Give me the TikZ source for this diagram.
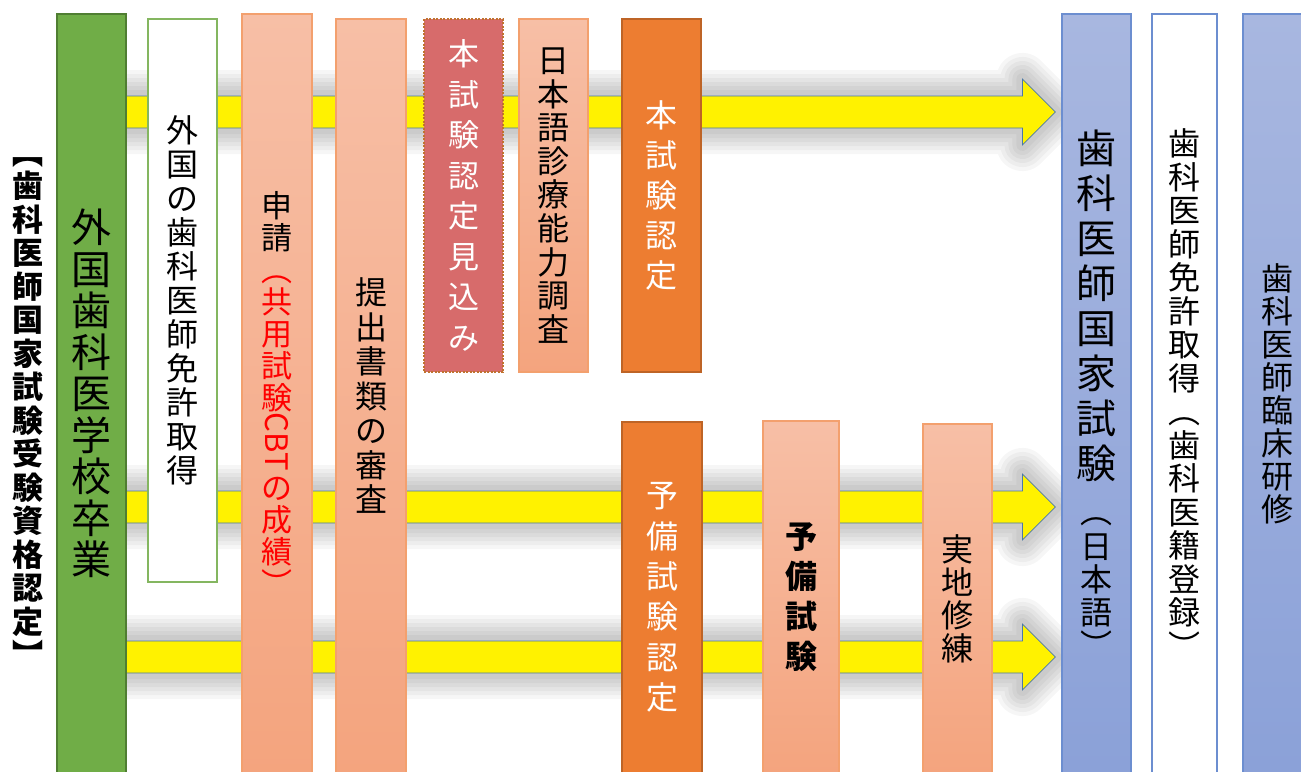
\documentclass[tikz,border=0pt]{standalone}
\usepackage{fontspec}
\usepackage{graphicx}
\setmainfont{Noto Sans CJK JP}
\usetikzlibrary{calc}
\pgfdeclarelayer{background}
\pgfsetlayers{background,main}
\definecolor{grnfill}{HTML}{70AD47}
\definecolor{grnline}{HTML}{507E32}
\definecolor{grnlite}{HTML}{84B660}
\definecolor{salmtop}{HTML}{F7BFA6}
\definecolor{salmbot}{HTML}{F4A47E}
\definecolor{salmline}{HTML}{F3A06E}
\definecolor{rosefill}{HTML}{D76B6B}
\definecolor{roseline}{HTML}{C0722F}
\definecolor{orgfill}{HTML}{ED7D31}
\definecolor{orgline}{HTML}{BE6426}
\definecolor{blutop}{HTML}{A8B7E0}
\definecolor{blubot}{HTML}{8BA1D8}
\definecolor{bluline}{HTML}{6C8ED0}
\definecolor{arrline}{HTML}{4A78A8}
\newcommand{\rd}[1]{\textcolor{red}{#1}}
\newcommand{\sm}[1]{{\fontsize{32}{33}\selectfont #1}}
\tikzset{
  bar/.style={rectangle, inner sep=0pt, align=center, line width=1.2pt,
    font=\fontsize{32}{34}\selectfont},
  greenbar/.style={bar, fill=grnfill, draw=grnline},
  whitebar/.style={bar, fill=white, draw=grnlite},
  salmonbar/.style={bar, top color=salmtop, bottom color=salmbot, draw=salmline},
  rosebar/.style={bar, fill=rosefill, draw=roseline, dash pattern=on 2pt off 1.5pt, text=white},
  orangebar/.style={bar, fill=orgfill, draw=orgline, text=white},
  bluebar/.style={bar, top color=blutop, bottom color=blubot, draw=bluline},
  blueline/.style={bar, fill=white, draw=bluline},
  yarrow/.style={fill=yellow, draw=arrline, line width=0.8pt, line join=miter},
  glow/.style={draw=black, opacity=.035, line join=round}
}
\def\blockarrow#1{%
  \foreach \w in {52,44,36,28,20,12}
    \draw[glow, line width=\w pt] (#1) -- ++(-33,-33) -- ++(0,17) -- ($(grad.center |- #1)+(0,-16)$)
      -- ++(0,32) -- ($(#1)+(-33,16)$) -- ++(0,17) -- cycle;
  \draw[yarrow] (#1) -- ++(-33,-33) -- ++(0,17) -- ($(grad.center |- #1)+(0,-16)$)
    -- ++(0,32) -- ($(#1)+(-33,16)$) -- ++(0,17) -- cycle;}

\begin{document}
\begin{tikzpicture}[x=1pt,y=-1pt]
  %%%%% START %%%%%
  \useasboundingbox (0,0) rectangle (1301,771);
  \clip (0,0) rectangle (1301,771);

  % title
  \node[align=center, inner sep=0pt, font=\bfseries\fontsize{31}{33.5}\selectfont] (title) at (28,412)
    {︻\\歯\\科\\医\\師\\国\\家\\試\\験\\受\\験\\資\\格\\認\\定\\︼};

  % columns
  \node[greenbar, minimum width=69pt, minimum height=759pt, font=\fontsize{40}{41.5}\selectfont] (grad) at (91.5,393.5)
    {外\\国\\歯\\科\\医\\学\\校\\卒\\業};
  \node[whitebar, minimum width=69pt, minimum height=563pt] (lic) at (182.5,300.5)
    {外\\国\\の\\歯\\科\\医\\師\\免\\許\\取\\得};
  \node[salmonbar, minimum width=70pt, minimum height=759pt, font=\fontsize{31}{32}\selectfont] (appl) at (277,393.5)
    {申\\請\\\rd{︵}\\\rd{共}\\\rd{用}\\\rd{試}\\\rd{験}\\\rd{\rotatebox[origin=c]{-90}{CBT}}\\[6pt]\rd{の}\\\rd{成}\\\rd{績}\\\rd{︶}};
  \node[salmonbar, minimum width=70pt, minimum height=754pt, font=\fontsize{32}{34.5}\selectfont] (docs) at (371,396)
    {提\\出\\書\\類\\の\\審\\査};
  \node[rosebar, minimum width=79pt, minimum height=353pt, font=\fontsize{31}{40.5}\selectfont] (expect) at (463.5,195.5)
    {本\\試\\験\\認\\定\\見\\込\\み};
  \node[salmonbar, minimum width=69pt, minimum height=353pt, font=\fontsize{32}{33.6}\selectfont] (jpn) at (553.5,195.5)
    {日\\本\\語\\診\\療\\能\\力\\調\\査};
  \node[orangebar, minimum width=79pt, minimum height=353pt, font=\fontsize{32}{40}\selectfont] (maincert) at (661.5,195.5)
    {本\\試\\験\\認\\定};
  \node[orangebar, minimum width=80pt, minimum height=351pt, font=\fontsize{32}{40.4}\selectfont] (precert) at (662,597.5)
    {予\\備\\試\\験\\認\\定};
  \node[salmonbar, minimum width=76pt, minimum height=352pt, font=\bfseries\fontsize{32}{40}\selectfont] (preexam) at (801,597)
    {予\\備\\試\\験};
  \node[salmonbar, minimum width=69pt, minimum height=349pt, font=\fontsize{32}{33}\selectfont] (practice) at (957.5,598.5)
    {実\\地\\修\\練};
  \node[bluebar, minimum width=69pt, minimum height=759pt, font=\fontsize{40}{45}\selectfont] (exam) at (1096.5,393.5)
    {歯\\科\\医\\師\\国\\家\\試\\験\\\sm{︵}\\[-10pt]\sm{日}\\[-12pt]\sm{本}\\[-12pt]\sm{語}\\[-12pt]\sm{︶}};
  \node[blueline, minimum width=65pt, minimum height=759pt, font=\fontsize{32}{33.5}\selectfont] (reg) at (1184.5,393.5)
    {歯\\科\\医\\師\\免\\許\\取\\得\\︵\\歯\\科\\医\\籍\\登\\録\\︶};
  \node[bluebar, minimum width=69pt, minimum height=759pt, font=\fontsize{32}{33}\selectfont] (resid) at (1277.5,393.5)
    {歯\\科\\医\\師\\臨\\床\\研\\修};

  % arrows
  \coordinate (tipA) at ($(exam.west |- 0,112)+(-6,0)$);
  \coordinate (tipB) at ($(exam.west |- 0,507)+(-6,0)$);
  \coordinate (tipC) at ($(exam.west |- 0,657)+(-6,0)$);
  \begin{pgfonlayer}{background}
    \fill[white] (0,0) rectangle (1301,771);
    \blockarrow{tipA}
    \blockarrow{tipB}
    \blockarrow{tipC}
  \end{pgfonlayer}
  %%%%% END %%%%%
\end{tikzpicture}
\end{document}
